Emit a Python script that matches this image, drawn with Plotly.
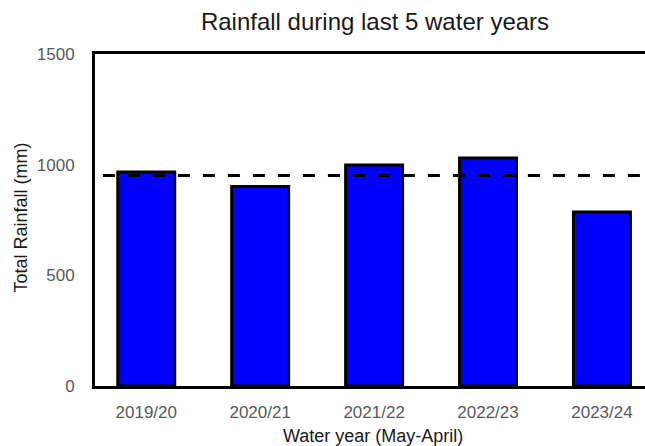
import plotly.graph_objects as go

years = ["2019/20", "2020/21", "2021/22", "2022/23", "2023/24"]
rainfall = [967, 901, 999, 1030, 786]
average_rainfall = 951
y_ticks = [0, 500, 1000, 1500]

FONT = "Liberation Sans, Arial, sans-serif"

fig = go.Figure()
fig.add_trace(go.Bar(
    x=list(range(len(years))), y=rainfall,
    width=0.5,
    marker=dict(color="#0000FF", line=dict(color="black", width=3)),
    showlegend=False, hoverinfo="skip",
))
fig.add_trace(go.Scatter(
    x=[-0.6, len(years)], y=[average_rainfall, average_rainfall],
    mode="lines", line=dict(color="black", width=3, dash="12px,13px"),
    showlegend=False, hoverinfo="skip", cliponaxis=True,
))

fig.update_layout(
    width=645, height=446,
    margin=dict(l=95, r=0, t=54, b=60),
    paper_bgcolor="white", plot_bgcolor="white",
    font=dict(family=FONT, size=17, color="#595959"),
    title=dict(text="Rainfall during last 5 water years",
               x=375 / 645, xref="container",
               xanchor="center", y=1 - 22 / 446, yanchor="middle",
               font=dict(family=FONT, size=24, color="#1a1a1a")),
    xaxis=dict(
        range=[-0.45, 4.378],
        tickmode="array", tickvals=list(range(len(years))), ticktext=years,
        showline=True, linecolor="black", linewidth=3, mirror=True,
        showgrid=False, zeroline=False, ticks="",
        ticklabelstandoff=9,
        tickfont=dict(size=17, color="#595959"),
    ),
    yaxis=dict(
        range=[0, 1500], tickvals=y_ticks,
        showline=True, linecolor="black", linewidth=3, mirror=False,
        showgrid=False, zeroline=False, ticks="",
        ticklabelstandoff=14,
        tickfont=dict(size=17, color="#595959"),
    ),
    annotations=[
        dict(text="Water year (May-April)", xref="paper", yref="paper",
             x=(373 - 95) / 550, y=-(436 - 386) / 332, xanchor="center", yanchor="middle",
             showarrow=False, font=dict(family=FONT, size=18, color="#1a1a1a")),
        dict(text="Total Rainfall (mm)", xref="paper", yref="paper",
             x=-(95 - 20) / 550, y=(386 - 217.5) / 332, xanchor="center", yanchor="middle",
             textangle=-90, showarrow=False,
             font=dict(family=FONT, size=18, color="#1a1a1a")),
    ],
)

fig.write_html("out.html", config={"displayModeBar": False},
               post_script="document.body.style.margin='0';")
